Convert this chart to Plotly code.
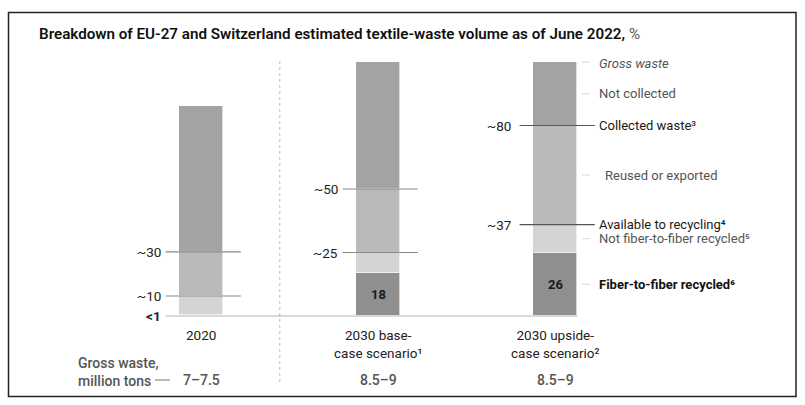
import plotly.graph_objects as go

# ---------------- data ----------------
categories = ["2020", "2030 base-<br>case scenario¹", "2030 upside-<br>case scenario²"]
gross_mt = [7.25, 8.75, 8.75]              # midpoint of gross waste range, million tons
gross_labels = ["7–7.5", "8.5–9", "8.5–9"]

# shares of gross waste, %, bottom to top
f2f_recycled = [0.5, 17, 25]
not_f2f_recycled = [9, 8, 11]
reused_exported = [21, 25, 39]
not_collected = [69.5, 50, 25]

f2f_labels = ["", "18", "26"]

# cumulative markers: (label, number of segments below the marker)
markers = [
    [("~30", 3), ("~10", 2), ("<1", 0)],
    [("~50", 3), ("~25", 2)],
    [("~80", 3), ("~37", 2)],
]

segment_names = ["Fiber-to-fiber recycled⁶", "Not fiber-to-fiber recycled⁵",
                 "Reused or exported", "Not collected"]
right_labels = ["Gross waste", "Not collected", "Collected waste³", "Reused or exported",
                "Available to recycling⁴", "Not fiber-to-fiber recycled⁵", "Fiber-to-fiber recycled⁶"]

title = "Breakdown of EU-27 and Switzerland estimated textile-waste volume as of June 2022,"

# ---------------- styling ----------------
W, H = 805, 405
FONT = "Roboto"
seg_colors = ["#8f8f8f", "#d4d4d4", "#bababa", "#a3a3a3"]
series = [f2f_recycled, not_f2f_recycled, reused_exported, not_collected]
BAR_W = 0.254

def tons(i, pct):
    return gross_mt[i] * pct / 100.0

fig = go.Figure()
xs = list(range(len(categories)))
for name, vals, col in zip(segment_names, series, seg_colors):
    fig.add_trace(go.Bar(
        x=xs, y=[tons(i, v) for i, v in enumerate(vals)], name=name,
        marker=dict(color=col, line=dict(color="rgba(255,255,255,0.8)", width=0.8)),
        width=BAR_W, hoverinfo="skip", showlegend=False,
    ))

shapes = []
ann = []

def cum(i, k):
    return tons(i, sum(s[i] for s in series[:k]))

# segment value labels
for i, lab in enumerate(f2f_labels):
    if lab:
        ann.append(dict(x=i, y=cum(i, 1) / 2, text=f"<b>{lab}</b>", showarrow=False,
                        xanchor="center", yanchor="middle",
                        font=dict(size=13, color="#1a1a1a", family=FONT), xref="x", yref="y"))

# marker lines and labels
for i, mk in enumerate(markers):
    for lab, k in mk:
        yv = cum(i, k)
        if k > 0:
            dark = (i == 2)
            shapes.append(dict(type="line", xref="x", yref="y", x0=i - 0.2, x1=i + 0.225,
                               y0=yv, y1=yv, layer="above",
                               line=dict(color="#555555" if dark else "#8a8a8a", width=1.2)))
        txt = f"<b>{lab}</b>" if lab == "<1" else lab
        ann.append(dict(x=i - 0.215 if i < 2 else i - 0.24, y=yv, text=txt, showarrow=False,
                        xanchor="right", yanchor="middle", xref="x", yref="y",
                        font=dict(size=13.5, color="#222222", family=FONT)))

# baseline
shapes.append(dict(type="line", xref="x", yref="y", x0=-0.2, x1=2 + BAR_W / 2, y0=0, y1=0,
                   layer="above", line=dict(color="#d9d9d9", width=2)))

# right-hand legend labels for the last bar
j = 2
right_pos = [
    (cum(j, 4), "gross"),
    ((cum(j, 3) + cum(j, 4)) / 2, "tick"),
    (cum(j, 3), "line"),
    ((cum(j, 2) + cum(j, 3)) / 2, "tick"),
    (cum(j, 2), "line"),
    ((cum(j, 1) + cum(j, 2)) / 2, "tick"),
    (cum(j, 1) / 2, "tick"),
]
for (yv, kind), lab in zip(right_pos, right_labels):
    if kind in ("gross", "tick"):
        shapes.append(dict(type="line", xref="x", yref="y", x0=j + 0.153, x1=j + 0.198,
                           y0=yv, y1=yv, line=dict(color="#dddddd", width=1.2)))
    style = dict(size=13, color="#555555", family=FONT)
    text = lab
    xoff = j + 0.238
    if kind == "gross":
        text = f"<i>{lab}</i>"
        yv = yv - 0.05
    elif kind == "line":
        style["color"] = "#1a1a1a"
    if lab.startswith("Fiber"):
        text = f"<b>{lab}</b>"
        style["color"] = "#111111"
    if lab.startswith("Reused"):
        xoff = j + 0.27
    ann.append(dict(x=xoff, y=yv, text=text, showarrow=False, xanchor="left", yanchor="middle",
                    xref="x", yref="y", font=style))

# category labels and gross waste values
for i, c in enumerate(categories):
    ann.append(dict(x=i, y=1 - 325 / H, text=c, showarrow=False, xref="x", yref="paper",
                    xanchor="center", yanchor="top", font=dict(size=13.5, color="#222222", family=FONT)))
    ann.append(dict(x=i, y=1 - 380 / H, text=gross_labels[i], showarrow=False, xref="x",
                    yref="paper", xanchor="center", yanchor="middle",
                    font=dict(size=14, color="#555555", family=FONT, weight=500)))

ann.append(dict(x=76 / W, y=1 - 372 / H, text="Gross waste,<br>million tons", showarrow=False,
                xref="paper", yref="paper", xanchor="left", yanchor="middle", align="left",
                font=dict(size=14, color="#555555", family=FONT, weight=500)))
shapes.append(dict(type="line", xref="paper", yref="paper", x0=155 / W, x1=170 / W,
                   y0=1 - 380 / H, y1=1 - 380 / H, line=dict(color="#777777", width=1)))

# divider
shapes.append(dict(type="line", xref="x", yref="paper", x0=0.445, x1=0.445,
                   y0=1 - 61 / H, y1=1 - 384 / H, line=dict(color="#bbbbbb", width=1, dash="dot")))

# title
ann.append(dict(x=37 / W, y=1 - 34 / H, text=f"{title} <span style='font-weight:400;color:#555'>%</span>",
                showarrow=False, xref="paper", yref="paper", xanchor="left", yanchor="middle",
                font=dict(size=15.2, color="#111111", family=FONT, weight=600)))

# frame
shapes.append(dict(type="rect", xref="paper", yref="paper", x0=8.5 / W, x1=796 / W,
                   y0=1 - 12.5 / H, y1=1 - 396.5 / H, line=dict(color="#222222", width=1.5)))

px_per_unit = 254 / 8.75
base_px = 316
fig.update_layout(
    width=W, height=H, margin=dict(l=0, r=0, t=0, b=0),
    paper_bgcolor="white", plot_bgcolor="white",
    barmode="stack", bargap=0,
    xaxis=dict(range=[-201 / 177, (W - 201) / 177], visible=False, fixedrange=True),
    yaxis=dict(range=[-(H - base_px) / px_per_unit, base_px / px_per_unit], visible=False, fixedrange=True),
    shapes=shapes, annotations=ann, showlegend=False,
)
fig.write_html("out.html")
